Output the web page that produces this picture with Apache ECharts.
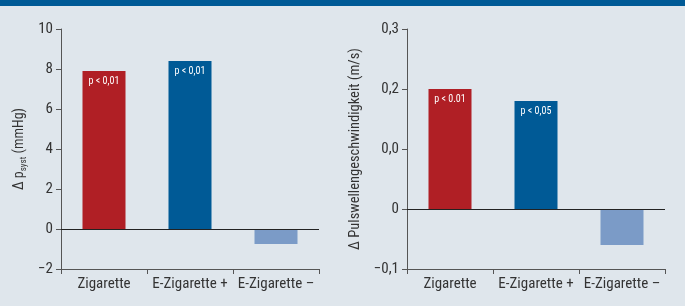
<!DOCTYPE html>
<html><head><meta charset="utf-8">
<script src="https://cdn.jsdelivr.net/npm/echarts@6/dist/echarts.min.js"></script>
<style>html,body{margin:0;padding:0;background:#dfe6ec;}#c{width:685px;height:306px;}</style>
</head><body><div id="c"></div>
<script>
const categories = ['Zigarette', 'E-Zigarette +', 'E-Zigarette \u2013'];
const bpValues = [7.9, 8.4, -0.75];
const pwvValues = [0.2, 0.18, -0.06];
const bpPLabels = ['p < 0,01', 'p < 0,01', ''];
const pwvPLabels = ['p < 0.01', 'p < 0,05', ''];
const bpTicks = ['\u22122', '0', '2', '4', '6', '8', '10'];
const pwvTicks = ['\u22120,1', '0', '0,0', '0,2', '0,3'];
const colors = ['#b01f25', '#005a96', '#7b9bc7'];

const FONT = 'Liberation Sans Narrow, Roboto Condensed, Arial Narrow, Roboto, sans-serif';
const chart = echarts.init(document.getElementById('c'));

function mkData(vals, labels) {
  return vals.map((v, i) => ({
    value: v,
    itemStyle: { color: colors[i] },
    label: { show: !!labels[i], formatter: labels[i] }
  }));
}
const axisCommon = {
  axisLine: { show: true, lineStyle: { color: '#555', width: 1 } },
  axisTick: { show: true, length: 5, lineStyle: { color: '#555' } },
  splitLine: { show: false }
};

chart.setOption({
  backgroundColor: '#dfe6ec',
  animation: false,
  graphic: [{ type: 'rect', shape: { x: 0, y: 0, width: 685, height: 6 }, style: { fill: '#005a96' } }],
  grid: [
    { left: 61, top: 29, width: 258, height: 240 },
    { left: 407, top: 29, width: 258, height: 240 }
  ],
  xAxis: [0, 1].map(g => Object.assign({}, axisCommon, {
    type: 'category', gridIndex: g, data: categories,
    axisLine: { onZero: false, lineStyle: { color: '#555' } },
    axisLabel: { color: '#333', fontSize: 15, margin: 8, interval: 0, fontFamily: FONT }
  })),
  yAxis: [
    Object.assign({}, axisCommon, {
      type: 'value', gridIndex: 0, min: -2, max: 10, interval: 2,
      axisLabel: { color: '#333', fontSize: 15, margin: 8, fontFamily: FONT, formatter: (v, i) => bpTicks[i] },
      name: '{n|\u0394 p}{s|syst}{n| (mmHg)}', nameLocation: 'middle', nameGap: 35, nameRotate: 90,
      nameTextStyle: { rich: {
        n: { fontSize: 14, color: '#333', fontFamily: FONT, lineHeight: 17, verticalAlign: 'bottom' },
        s: { fontSize: 9, color: '#333', fontFamily: FONT, lineHeight: 17, verticalAlign: 'bottom', padding: [0, 0, -2, 0] }
      } }
    }),
    Object.assign({}, axisCommon, {
      type: 'value', gridIndex: 1, min: -0.1, max: 0.3, interval: 0.1,
      axisLabel: { color: '#333', fontSize: 15, margin: 8, fontFamily: FONT, formatter: (v, i) => pwvTicks[i] },
      name: '\u0394 Pulswellengeschwindigkeit (m/s)', nameLocation: 'middle', nameGap: 44, nameRotate: 90,
      nameTextStyle: { fontSize: 14.5, color: '#333', fontFamily: FONT }
    })
  ],
  series: [
    { type: 'bar', xAxisIndex: 0, yAxisIndex: 0, barWidth: '50%', data: mkData(bpValues, bpPLabels),
      label: { position: 'insideTop', distance: 5, color: '#fff', fontSize: 10, fontFamily: FONT },
      markLine: { silent: true, symbol: 'none', label: { show: false }, lineStyle: { color: '#222', width: 1, type: 'solid' }, data: [{ yAxis: 0 }] } },
    { type: 'bar', xAxisIndex: 1, yAxisIndex: 1, barWidth: '50%', data: mkData(pwvValues, pwvPLabels),
      label: { position: 'insideTop', distance: 5, color: '#fff', fontSize: 10, fontFamily: FONT },
      markLine: { silent: true, symbol: 'none', label: { show: false }, lineStyle: { color: '#222', width: 1, type: 'solid' }, data: [{ yAxis: 0 }] } }
  ]
});
</script></body></html>
